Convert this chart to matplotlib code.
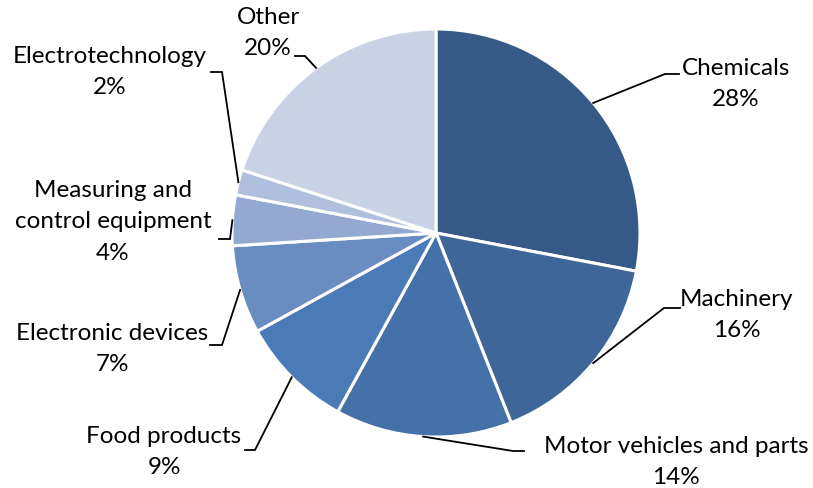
import numpy as np
import matplotlib.pyplot as plt

# shares by product group (%)
groups = ['Chemicals', 'Machinery', 'Motor vehicles and parts', 'Food products',
          'Electronic devices', 'Measuring and\ncontrol equipment',
          'Electrotechnology', 'Other']
shares = [28, 16, 14, 9, 7, 4, 2, 20]
colors = ['#365A87', '#3E6698', '#4471A7', '#4A7BB7',
          '#6A8DC1', '#94A9D1', '#B0BFDD', '#C9D2E5']

# label layout in pixel coords (text centre, leader elbow, elbow end)
label_xy = [(736, 84), (737, 315), (676, 462), (164, 452),
            (112, 349), (113, 222), (110, 72), (268, 33)]
elbow = [(665, 74), (664, 308), (513, 451), (255, 450),
         (222, 345), (230, 239), (222, 72), (305, 56)]
elbow_end = [(679, 74), (680, 308), (524, 451), (245, 450),
             (210, 345), (219, 239), (211, 72), (295, 56)]

plt.rcParams['font.family'] = ['Lato', 'DejaVu Sans']

fig = plt.figure(figsize=(8.13, 4.88), dpi=100)
ax = fig.add_axes([0, 0, 1, 1])

cx, cy, r = 436, 233, 204
ax.pie(shares, colors=colors, center=(cx, cy), radius=r,
       startangle=-90, counterclock=True, frame=True,
       wedgeprops=dict(edgecolor='white', linewidth=2.2))
ax.set_xlim(0, 813)
ax.set_ylim(488, 0)
ax.set_aspect('equal')
ax.axis('off')

cum = np.cumsum([0] + shares[:-1])
for i, (g, s) in enumerate(zip(groups, shares)):
    th = np.deg2rad(-90 + 3.6 * (cum[i] + s / 2))
    px, py = cx + r * np.cos(th), cy + r * np.sin(th)
    ex, ey = elbow[i]
    fx, fy = elbow_end[i]
    ax.plot([px, ex, fx], [py, ey, fy], color='black', lw=1.3,
            solid_joinstyle='miter')
    ax.text(label_xy[i][0], label_xy[i][1], f'{g}\n{s}%', ha='center',
            va='center', fontsize=17.5, linespacing=1.62, color='black')

fig.savefig('out.png', dpi=100)
